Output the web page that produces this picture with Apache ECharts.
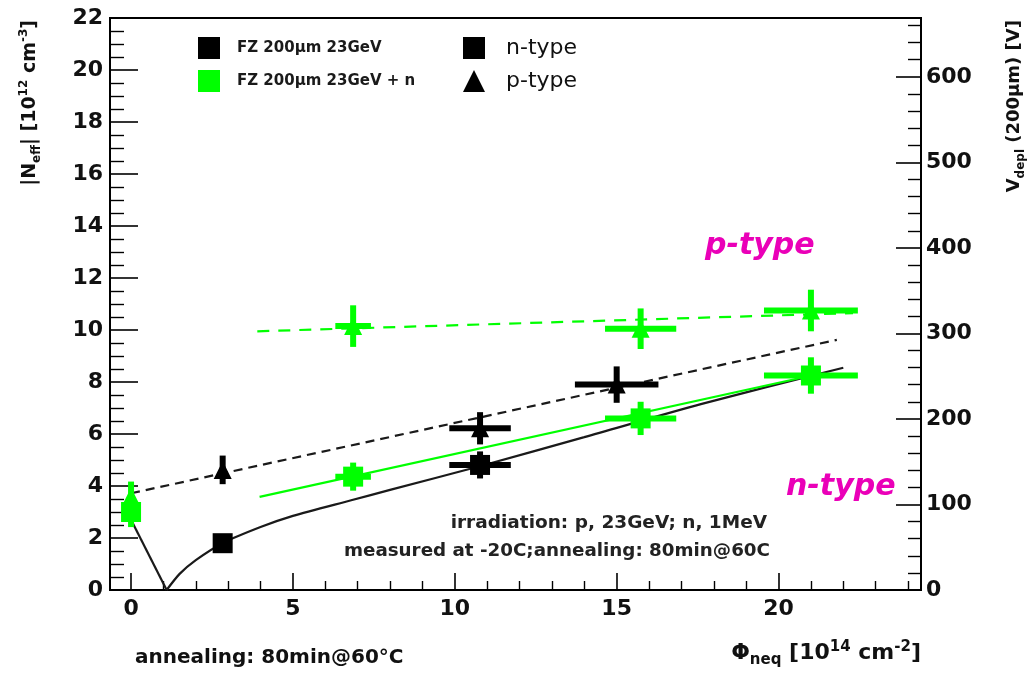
<!DOCTYPE html>
<html>
<head>
<meta charset="utf-8">
<script src="https://cdn.jsdelivr.net/npm/echarts@6/dist/echarts.min.js"></script>
<style>
  html, body { margin: 0; padding: 0; background: #fff; }
  #chart { width: 1035px; height: 673px; }
</style>
</head>
<body>
<div id="chart"></div>
<script>
// ---- axis ticks ----
const fluenceMajorTicks = [0, 5, 10, 15, 20];
const fluenceMinorTicks = [1, 2, 3, 4, 6, 7, 8, 9, 11, 12, 13, 14, 16, 17, 18, 19, 21, 22, 23, 24];
const vdeplMajorTicks = [0, 100, 200, 300, 400, 500, 600];
const vdeplMinorTicks = [20, 40, 60, 80, 120, 140, 160, 180, 220, 240, 260, 280, 320, 340, 360, 380,
                         420, 440, 460, 480, 520, 540, 560, 580, 620, 640, 660];

// ---- FZ 200um, 23 GeV protons, n-type (squares) ----
const pN_fluence    = [2.83, 10.78];
const pN_neff       = [1.80, 4.81];
const pN_fluenceErr = [0, 0.95];
const pN_neffErr    = [0, 0.52];

// ---- FZ 200um, 23 GeV protons, p-type (triangles) ----
const pP_fluence    = [2.83, 10.78, 15.0];
const pP_neff       = [4.62, 6.22, 7.90];
const pP_fluenceErr = [0, 0.95, 1.29];
const pP_neffErr    = [0.55, 0.62, 0.70];

// ---- FZ 200um, 23 GeV protons + neutrons, n-type (squares) ----
const pnN_fluence    = [0, 6.86, 15.74, 21.0];
const pnN_neff       = [3.00, 4.36, 6.60, 8.25];
const pnN_fluenceErr = [0, 0.55, 1.10, 1.45];
const pnN_neffErr    = [0.58, 0.54, 0.64, 0.70];

// ---- FZ 200um, 23 GeV protons + neutrons, p-type (triangles) ----
const pnP_fluence    = [0, 6.86, 15.74, 21.0];
const pnP_neff       = [3.60, 10.15, 10.05, 10.75];
const pnP_fluenceErr = [0, 0.55, 1.10, 1.45];
const pnP_neffErr    = [0.57, 0.80, 0.78, 0.80];

// ---- fitted curves ----
const fitNLeft_x  = [0, 1.1];
const fitNLeft_y  = [2.7, 0];
const fitNRight_x = [1.1, 1.5, 2.0, 2.83, 4.0, 5.0, 6.8, 8.0, 10.8, 14.0, 17.6, 22.0];
const fitNRight_y = [0, 0.62, 1.15, 1.80, 2.42, 2.85, 3.45, 3.85, 4.77, 5.88, 7.15, 8.55];
const fitP_x      = [0, 21.8];
const fitP_y      = [3.72, 9.62];
const fitPnN_x    = [3.97, 21.2];
const fitPnN_y    = [3.58, 8.30];
const fitPnP_x    = [3.9, 22.3];
const fitPnP_y    = [9.95, 10.65];

const BLACK = '#000000';
const GREEN = '#00ff00';
const MAGENTA = '#ea00b8';
const FONT = 'DejaVu Sans';

const zip = (xs, ys) => xs.map((x, i) => [x, ys[i]]);

function fitLine(name, xs, ys, color, type, smooth) {
  return {
    name, type: 'line', data: zip(xs, ys), showSymbol: false, smooth: smooth || false,
    silent: true, z: 3,
    lineStyle: { color, width: 2.2, type },
    itemStyle: { color }
  };
}

function markers(name, xs, ys, color, symbol, size) {
  return {
    name, type: 'scatter', data: zip(xs, ys), symbol, symbolSize: size,
    itemStyle: { color, opacity: 1 }, z: 6
  };
}

// horizontal and vertical error bars drawn as thick strokes around each point
function errorBars(name, xs, ys, xe, ye, color) {
  return {
    name, type: 'custom', z: 5, itemStyle: { color },
    data: xs.map((x, i) => [x, ys[i], xe[i], ye[i]]),
    encode: { x: 0, y: 1 },
    renderItem(params, api) {
      const x = api.value(0), y = api.value(1), ex = api.value(2), ey = api.value(3);
      const c = api.coord([x, y]);
      const t = 6;
      const children = [];
      if (ex > 0) {
        const a = api.coord([x - ex, y]), b = api.coord([x + ex, y]);
        children.push({ type: 'rect', shape: { x: a[0], y: c[1] - t / 2, width: b[0] - a[0], height: t },
                        style: { fill: color } });
      }
      if (ey > 0) {
        const a = api.coord([x, y + ey]), b = api.coord([x, y - ey]);
        children.push({ type: 'rect', shape: { x: c[0] - t / 2, y: a[1], width: t, height: b[1] - a[1] },
                        style: { fill: color } });
      }
      return { type: 'group', children };
    }
  };
}

const chart = echarts.init(document.getElementById('chart'), null, { renderer: 'canvas' });

const tickLabel = { fontFamily: FONT, fontWeight: 'bold', fontSize: 22, color: '#111' };
const frameLine = { show: true, onZero: false, lineStyle: { color: '#000', width: 2 } };

const option = {
  animation: false,
  backgroundColor: '#ffffff',
  grid: { left: 110, right: 114, top: 18, bottom: 83, show: true, borderColor: '#000', borderWidth: 2,
          backgroundColor: 'transparent' },
  legend: [
    {
      left: 193, top: 32, orient: 'vertical', itemWidth: 22, itemHeight: 22, itemGap: 11,
      selectedMode: false,
      textStyle: { fontFamily: FONT, fontWeight: 'bold', fontSize: 15, color: '#1a1a1a', padding: [0, 0, 0, 12] },
      data: [
        { name: 'FZ 200µm 23GeV', icon: 'rect', itemStyle: { color: BLACK } },
        { name: 'FZ 200µm 23GeV + n', icon: 'rect', itemStyle: { color: GREEN } }
      ]
    },
    {
      left: 458, top: 32, orient: 'vertical', itemWidth: 22, itemHeight: 22, itemGap: 11,
      selectedMode: false,
      textStyle: { fontFamily: FONT, fontSize: 22, color: '#111', padding: [0, 0, 0, 16] },
      data: [
        { name: 'n-type', icon: 'rect', itemStyle: { color: BLACK } },
        { name: 'p-type', icon: 'triangle', itemStyle: { color: BLACK } }
      ]
    }
  ],
  xAxis: [
    {
      type: 'value', position: 'bottom', min: -0.65, max: 24.4,
      axisLine: frameLine,
      axisTick: { show: true, inside: true, length: 17, customValues: fluenceMajorTicks,
                  lineStyle: { color: '#000', width: 1.6 } },
      axisLabel: { ...tickLabel, margin: 8, customValues: fluenceMajorTicks },
      splitLine: { show: false }
    },
    {
      type: 'value', position: 'bottom', min: -0.65, max: 24.4,
      axisLine: { show: false, onZero: false },
      axisTick: { show: true, inside: true, length: 9, customValues: fluenceMinorTicks,
                  lineStyle: { color: '#000', width: 1.4 } },
      axisLabel: { show: false },
      splitLine: { show: false }
    }
  ],
  yAxis: [
    {
      type: 'value', position: 'left', min: 0, max: 22, interval: 2,
      axisLine: frameLine,
      axisTick: { show: true, inside: true, length: 28, lineStyle: { color: '#000', width: 1.6 } },
      minorTick: { show: true, splitNumber: 4, length: 14, lineStyle: { color: '#000', width: 1.4 } },
      axisLabel: { ...tickLabel, margin: 7 },
      splitLine: { show: false }
    },
    {
      type: 'value', position: 'right', min: 0, max: 668.8,
      axisLine: frameLine,
      axisTick: { show: true, inside: true, length: 25, customValues: vdeplMajorTicks,
                  lineStyle: { color: '#000', width: 1.6 } },
      axisLabel: { ...tickLabel, margin: 5, customValues: vdeplMajorTicks },
      splitLine: { show: false }
    },
    {
      type: 'value', position: 'right', min: 0, max: 668.8,
      axisLine: { show: false, onZero: false },
      axisTick: { show: true, inside: true, length: 13, customValues: vdeplMinorTicks,
                  lineStyle: { color: '#000', width: 1.4 } },
      axisLabel: { show: false },
      splitLine: { show: false }
    }
  ],
  series: [
    fitLine('n-type', fitNLeft_x, fitNLeft_y, '#1a1a1a', 'solid', false),
    fitLine('n-type', fitNRight_x, fitNRight_y, '#1a1a1a', 'solid', 0.25),
    fitLine('p-type', fitP_x, fitP_y, '#1a1a1a', [9, 6], false),
    fitLine('FZ 200µm 23GeV + n', fitPnN_x, fitPnN_y, GREEN, 'solid', false),
    fitLine('FZ 200µm 23GeV + n', fitPnP_x, fitPnP_y, GREEN, [12, 9], false),

    errorBars('FZ 200µm 23GeV', pN_fluence, pN_neff, pN_fluenceErr, pN_neffErr, BLACK),
    markers('FZ 200µm 23GeV', pN_fluence, pN_neff, BLACK, 'rect', 20),
    errorBars('p-type', pP_fluence, pP_neff, pP_fluenceErr, pP_neffErr, BLACK),
    markers('p-type', pP_fluence, pP_neff, BLACK, 'triangle', 18),

    errorBars('FZ 200µm 23GeV + n', pnN_fluence, pnN_neff, pnN_fluenceErr, pnN_neffErr, GREEN),
    markers('FZ 200µm 23GeV + n', pnN_fluence, pnN_neff, GREEN, 'rect', 20),
    errorBars('FZ 200µm 23GeV + n', pnP_fluence, pnP_neff, pnP_fluenceErr, pnP_neffErr, GREEN),
    markers('FZ 200µm 23GeV + n', pnP_fluence, pnP_neff, GREEN, 'triangle', 18)
  ],
  graphic: [
    // left axis title: |N_eff| [10^12 cm^-3]
    {
      type: 'text', x: 30, y: 20, rotation: Math.PI / 2, silent: true,
      style: {
        text: '{b||N}{s|eff}{b|| [10}{u|12}{b| cm}{u|-3}{b|]}',
        align: 'right', verticalAlign: 'middle', fill: '#111',
        rich: {
          b: { fontFamily: FONT, fontWeight: 'bold', fontSize: 19, lineHeight: 30, verticalAlign: 'middle' },
          s: { fontFamily: FONT, fontWeight: 'bold', fontSize: 12, lineHeight: 12, verticalAlign: 'bottom', padding: [0, 0, 2, 0] },
          u: { fontFamily: FONT, fontWeight: 'bold', fontSize: 12, lineHeight: 12, verticalAlign: 'top', padding: [3, 0, 0, 0] }
        }
      }
    },
    // right axis title: V_depl (200µm) [V]
    {
      type: 'text', x: 1014, y: 20, rotation: Math.PI / 2, silent: true,
      style: {
        text: '{b|V}{s|depl}{b| (200µm) [V]}',
        align: 'right', verticalAlign: 'middle', fill: '#111',
        rich: {
          b: { fontFamily: FONT, fontWeight: 'bold', fontSize: 18, lineHeight: 30, verticalAlign: 'middle' },
          s: { fontFamily: FONT, fontWeight: 'bold', fontSize: 12, lineHeight: 12, verticalAlign: 'bottom', padding: [0, 0, 2, 0] }
        }
      }
    },
    // bottom axis title: Φ_neq [10^14 cm^-2]
    {
      type: 'text', x: 921, y: 653, silent: true,
      style: {
        text: '{b|Φ}{s|neq}{b| [10}{u|14}{b| cm}{u|-2}{b|]}',
        align: 'right', verticalAlign: 'middle', fill: '#111',
        rich: {
          b: { fontFamily: FONT, fontWeight: 'bold', fontSize: 22, lineHeight: 32, verticalAlign: 'middle' },
          s: { fontFamily: FONT, fontWeight: 'bold', fontSize: 15, lineHeight: 15, verticalAlign: 'bottom', padding: [0, 0, 1, 0] },
          u: { fontFamily: FONT, fontWeight: 'bold', fontSize: 15, lineHeight: 15, verticalAlign: 'top', padding: [3, 0, 0, 0] }
        }
      }
    },
    // irradiation notes
    {
      type: 'text', x: 767, y: 523, silent: true,
      style: { text: 'irradiation: p, 23GeV; n, 1MeV', align: 'right', verticalAlign: 'middle',
               fontFamily: FONT, fontWeight: 'bold', fontSize: 18.5, fill: '#222' }
    },
    {
      type: 'text', x: 770, y: 551, silent: true,
      style: { text: 'measured at -20C;annealing: 80min@60C', align: 'right', verticalAlign: 'middle',
               fontFamily: FONT, fontWeight: 'bold', fontSize: 18.3, fill: '#222' }
    },
    // type labels
    {
      type: 'text', x: 705, y: 246, silent: true,
      style: { text: 'p-type', align: 'left', verticalAlign: 'middle',
               fontFamily: FONT, fontWeight: 'bold', fontStyle: 'italic', fontSize: 30, fill: MAGENTA }
    },
    {
      type: 'text', x: 786, y: 487, silent: true,
      style: { text: 'n-type', align: 'left', verticalAlign: 'middle',
               fontFamily: FONT, fontWeight: 'bold', fontStyle: 'italic', fontSize: 30, fill: MAGENTA }
    },
    // annealing note under the plot
    {
      type: 'text', x: 135, y: 658, silent: true,
      style: { text: 'annealing: 80min@60°C', align: 'left', verticalAlign: 'middle',
               fontFamily: FONT, fontWeight: 'bold', fontSize: 20, fill: '#111' }
    }
  ]
};

chart.setOption(option);
</script>
</body>
</html>
